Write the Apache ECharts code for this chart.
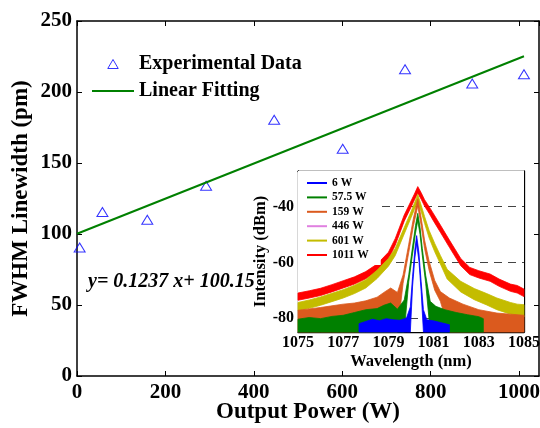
<!DOCTYPE html>
<html><head><meta charset="utf-8">
<script src="https://cdn.jsdelivr.net/npm/echarts@6/dist/echarts.min.js"></script>
<style>html,body{margin:0;padding:0;background:#fff}#c{width:540px;height:428px}</style>
</head><body><div id="c"></div>
<script>
// ---- main chart data ----
const power = [6, 57.5, 159, 292, 446, 601, 742, 894, 1011];
const fwhm  = [90.5, 115.5, 110, 134, 180.5, 160, 216, 206, 212.5];
const fitX = [0, 1011];
const fitY = [100.15, 225.21];
const equationText = 'y= 0.1237 x+ 100.15';

// ---- inset tick values ----
const wlTicks = [1075, 1077, 1079, 1081, 1083, 1085];
const dbTicks = [-80, -60, -40];
const dbGrid = [-40, -60, -80];

// ---- inset spectra (wavelength nm, upper / lower edge of noisy trace, dBm) ----
const red_wl = [1075, 1075.5, 1076, 1076.5, 1077, 1077.5, 1078, 1078.5, 1079, 1079.3, 1079.7, 1080, 1080.15, 1080.3, 1080.45, 1080.6, 1080.8, 1081, 1081.3, 1081.7, 1082.2, 1082.6, 1083, 1083.5, 1083.9, 1084.4, 1084.7, 1085];
const red_up = [-71.0, -70.2, -69.3, -68.0, -66.6, -65.2, -63.3, -60.6, -56.4, -51.5, -43.0, -38.0, -35.5, -32.8, -35.0, -37.5, -40.0, -42.6, -46.6, -52.0, -58.6, -61.8, -63.0, -64.2, -66.0, -67.8, -68.3, -69.6];
const red_lo = [-73.6, -72.8, -71.9, -70.6, -69.2, -67.8, -65.9, -63.2, -59.0, -53.9, -45.2, -40.2, -37.6, -35.2, -37.3, -39.8, -42.4, -45.2, -49.2, -54.6, -61.2, -64.4, -65.6, -66.8, -68.6, -70.4, -71.0, -72.3];

const yel_wl = [1075, 1075.5, 1076, 1076.5, 1077, 1077.5, 1078, 1078.5, 1079, 1079.3, 1079.7, 1080, 1080.15, 1080.3, 1080.45, 1080.6, 1080.8, 1081.05, 1081.3, 1081.6, 1082.2, 1082.8, 1083.35, 1083.8, 1084.4, 1084.7, 1085];
const yel_up = [-74.4, -73.5, -72.4, -71.1, -69.8, -68.2, -66.2, -62.8, -58.6, -55.0, -47.5, -41.8, -38.8, -35.6, -39.5, -43.5, -48.5, -53.2, -57.5, -62.5, -66.8, -69.4, -71.2, -72.8, -74.4, -75.0, -75.2];
const yel_lo = [-77.4, -76.5, -75.4, -74.1, -72.8, -71.2, -69.2, -65.8, -61.4, -57.6, -49.8, -44.0, -41.0, -38.2, -41.8, -46.0, -51.2, -56.2, -60.6, -66.0, -70.6, -73.4, -75.3, -77.0, -78.6, -79.2, -79.6];

const ora_wl = [1075, 1075.5, 1076, 1076.5, 1077, 1077.5, 1078, 1078.5, 1078.8, 1079.1, 1079.4, 1079.65, 1079.9, 1080.1, 1080.3, 1080.45, 1080.6, 1080.8, 1081.05, 1081.3, 1081.7, 1082.3, 1083, 1083.8, 1084.4, 1085];
const ora_up = [-77.2, -76.7, -76.2, -75.6, -75.0, -74.6, -73.8, -72.5, -70.8, -69.2, -70.8, -64.5, -53.5, -44.5, -37.2, -44.0, -52.0, -59.5, -66.5, -70.5, -72.8, -75.0, -77.0, -78.2, -78.6, -79.0];
const ora_lo = [-85, -85, -85, -85, -85, -85, -85, -85, -85, -85, -85, -67.5, -56.5, -47.2, -39.8, -46.8, -55.0, -62.8, -70.0, -74.0, -85, -85, -85, -85, -85, -85];

const grn_wl = [1075, 1075.5, 1076, 1076.5, 1077, 1077.5, 1078, 1078.5, 1078.8, 1079.1, 1079.4, 1079.7, 1079.9, 1080.05, 1080.2, 1080.3, 1080.4, 1080.5, 1080.65, 1080.85, 1081.1, 1081.5, 1082, 1082.5, 1083, 1083.2];
const grn_up = [-80.4, -79.8, -80.2, -79.4, -79.0, -78.0, -77.0, -76.6, -75.4, -74.6, -76.8, -73.5, -64.5, -55.5, -46.8, -42.4, -47.5, -55.0, -64.7, -74.0, -75.8, -77.0, -78.0, -78.8, -79.5, -80.2];
const grn_lo = [-85, -85, -85, -85, -85, -85, -85, -85, -85, -85, -85, -85, -67.0, -58.0, -49.5, -45.0, -50.0, -57.5, -67.5, -85, -85, -85, -85, -85, -85, -85];

const blu_wl = [1077.7, 1078, 1078.3, 1078.6, 1078.9, 1079.2, 1079.5, 1079.8, 1079.97, 1080.07, 1080.17, 1080.25, 1080.35, 1080.45, 1080.55, 1080.7, 1081, 1081.3, 1081.7];
const blu_up = [-82.0, -81.2, -80.4, -81.0, -80.2, -80.6, -80.8, -80.0, -76.0, -65.0, -55.5, -50.4, -56.5, -67.0, -77.0, -80.6, -81.0, -81.6, -82.4];
const blu_lo = [-85, -85, -85, -85, -85, -85, -85, -85, -85, -68.5, -58.5, -53.2, -59.5, -70.5, -85, -85, -85, -85, -85];

const specNames = ['6 W', '57.5 W', '159 W', '446 W', '601 W', '1011 W'];

const FONT = '"Liberation Serif", "Times New Roman", serif';
const plain = v => String(v);

function band(name, color, wl, up, lo) {
  return {
    type: 'custom', name: name, xAxisIndex: 2, yAxisIndex: 2, z: 10,
    itemStyle: { color: color },
    data: wl.map((w, i) => [w, up[i], lo[i]]),
    encode: { x: 0, y: [1, 2] },
    renderItem: function (params, api) {
      if (params.dataIndex !== 0) return null;
      const pts = [];
      for (let i = 0; i < wl.length; i++) pts.push(api.coord([wl[i], up[i]]));
      for (let i = wl.length - 1; i >= 0; i--) pts.push(api.coord([wl[i], lo[i]]));
      return { type: 'polygon', shape: { points: pts }, style: { fill: color, stroke: color, lineWidth: 0.8 } };
    }
  };
}

const chart = echarts.init(document.getElementById('c'), null, { renderer: 'canvas' });
const axisLine = { show: true, onZero: false, lineStyle: { color: '#000', width: 1.5 } };
const lblMain = { color: '#000', fontFamily: FONT, fontWeight: 'bold', fontSize: 21, formatter: plain };
const lblInset = { color: '#000', fontFamily: FONT, fontWeight: 'bold', fontSize: 16, formatter: plain };
const titleMain = { color: '#000', fontFamily: FONT, fontWeight: 'bold', fontSize: 23 };
const titleInset = { color: '#000', fontFamily: FONT, fontWeight: 'bold', fontSize: 16.5 };

const option = {
  backgroundColor: '#fff',
  animation: false,
  grid: [
    { left: 77, top: 21, right: 1, bottom: 52, containLabel: false, outerBoundsMode: 'none' },
    { left: 298, top: 171, right: 16, bottom: 96, containLabel: false, outerBoundsMode: 'none',
      show: true, backgroundColor: '#fff', borderWidth: 0, z: 3 }
  ],
  xAxis: [
    { gridIndex: 0, type: 'value', min: 0, max: 1045, interval: 200, position: 'bottom',
      axisLine: axisLine, axisTick: { inside: true, length: 5, lineStyle: { color: '#000', width: 1 } },
      axisLabel: Object.assign({ margin: 6, showMaxLabel: false }, lblMain), splitLine: { show: false },
      name: 'Output Power (W)', nameLocation: 'middle', nameGap: 25, nameMoveOverlap: false,
      nameTextStyle: titleMain },
    { gridIndex: 0, type: 'value', min: 0, max: 1045, interval: 200, position: 'top',
      axisLine: axisLine, axisTick: { inside: true, length: 5, lineStyle: { color: '#000', width: 1 } },
      axisLabel: { show: false }, splitLine: { show: false } },
    { gridIndex: 1, type: 'value', min: 1075, max: 1085, position: 'bottom',
      axisLine: { show: true, onZero: false, lineStyle: { color: '#000', width: 1.3 } },
      axisTick: { inside: true, length: 4, customValues: wlTicks, lineStyle: { color: '#000' } },
      axisLabel: Object.assign({ margin: 3, customValues: wlTicks }, lblInset), splitLine: { show: false },
      name: 'Wavelength (nm)', nameLocation: 'middle', nameGap: 21, nameTextStyle: titleInset },
    { gridIndex: 1, type: 'value', min: 1075, max: 1085, position: 'top',
      axisLine: { show: true, onZero: false, lineStyle: { color: '#000', width: 1.3 } },
      axisTick: { inside: true, length: 4, customValues: wlTicks, lineStyle: { color: '#000' } },
      axisLabel: { show: false }, splitLine: { show: false } }
  ],
  yAxis: [
    { gridIndex: 0, type: 'value', min: 0, max: 250, interval: 50, position: 'left',
      axisLine: axisLine, axisTick: { show: true, inside: true, length: 5, lineStyle: { color: '#000', width: 1 } },
      axisLabel: Object.assign({ margin: 5 }, lblMain), splitLine: { show: false },
      name: 'FWHM Linewidth (pm)', nameLocation: 'middle', nameGap: 44, nameMoveOverlap: false,
      nameTextStyle: titleMain },
    { gridIndex: 0, type: 'value', min: 0, max: 250, interval: 50, position: 'right',
      axisLine: axisLine, axisTick: { show: true, inside: true, length: 5, lineStyle: { color: '#000', width: 1 } },
      axisLabel: { show: false }, splitLine: { show: false } },
    { gridIndex: 1, type: 'value', min: -85, max: -27.2, position: 'left',
      axisLine: { show: true, onZero: false, lineStyle: { color: '#000', width: 1.3 } },
      axisTick: { show: true, inside: true, length: 4, customValues: dbTicks, lineStyle: { color: '#000' } },
      axisLabel: Object.assign({ margin: 4, customValues: dbTicks }, lblInset), splitLine: { show: false },
      name: 'Intensity (dBm)', nameLocation: 'middle', nameGap: 17, nameTextStyle: titleInset },
    { gridIndex: 1, type: 'value', min: -85, max: -27.2, position: 'right',
      axisLine: { show: true, onZero: false, lineStyle: { color: '#000', width: 1.3 } },
      axisTick: { show: true, inside: true, length: 4, customValues: dbTicks, lineStyle: { color: '#000' } },
      axisLabel: { show: false }, splitLine: { show: false } }
  ],
  legend: [
    { data: [
        { name: 'Experimental Data', icon: 'path://M5,0L10,8.6L0,8.6Z', itemStyle: { borderWidth: 1 } },
        { name: 'Linear Fitting', icon: 'path://M0,0L42,0L42,2L0,2Z', itemStyle: { color: '#008000', borderWidth: 0 } }
      ],
      orient: 'vertical', left: 92, top: 53, padding: 0, itemWidth: 42, itemHeight: 9, itemGap: 5,
      textStyle: { color: '#000', fontFamily: FONT, fontWeight: 'bold', fontSize: 20, lineHeight: 22 } },
    { data: specNames, orient: 'vertical', left: 298, top: 172, padding: [5, 12, 4, 9],
      backgroundColor: '#fff', z: 20, icon: 'rect', itemWidth: 20, itemHeight: 2, itemGap: 2.4,
      textStyle: { color: '#000', fontFamily: FONT, fontWeight: 'bold', fontSize: 11.5, lineHeight: 12 } }
  ],
  graphic: [
    { type: 'text', left: 88, top: 272, z: 50,
      style: { text: equationText, fill: '#000', font: 'italic bold 20px "Liberation Serif", serif' } }
  ],
  series: [
    { name: 'Experimental Data', type: 'scatter', xAxisIndex: 0, yAxisIndex: 0,
      symbol: 'triangle', symbolSize: [11, 9],
      itemStyle: { color: 'rgba(0,0,0,0)', borderColor: '#0000FF', borderWidth: 1 },
      data: power.map((p, i) => [p, fwhm[i]]) },
    { name: 'Linear Fitting', type: 'line', xAxisIndex: 0, yAxisIndex: 0, symbol: 'none', showSymbol: false,
      lineStyle: { color: '#008000', width: 2 }, itemStyle: { color: '#008000' },
      data: fitX.map((x, i) => [x, fitY[i]]) },
    { name: 'gridlines', type: 'line', xAxisIndex: 2, yAxisIndex: 2, data: [],
      markLine: { silent: true, symbol: 'none', label: { show: false }, z: 5, animation: false,
        lineStyle: { type: [8, 6], color: '#444', width: 1.2 },
        data: dbGrid.map(v => ({ yAxis: v })) } },
    band('1011 W', '#FF0000', red_wl, red_up, red_lo),
    band('601 W', '#C4BC00', yel_wl, yel_up, yel_lo),
    band('446 W', '#E080E0', [], [], []),
    band('159 W', '#DB5A1E', ora_wl, ora_up, ora_lo),
    band('57.5 W', '#008000', grn_wl, grn_up, grn_lo),
    band('6 W', '#0000FF', blu_wl, blu_up, blu_lo)
  ]
};
chart.setOption(option);
</script>
</body></html>
